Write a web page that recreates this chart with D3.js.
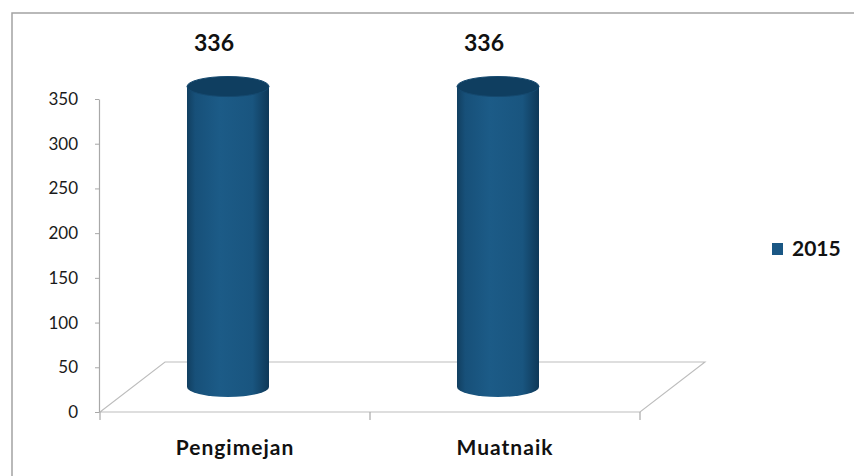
<!DOCTYPE html>
<html>
  <head>
    <meta charset="utf-8">
    <script src="https://d3js.org/d3.v7.min.js"></script>
    <style>
      body { margin: 0; background: #fff; }
      svg { font-family: Lato, "Open Sans", sans-serif; }
    </style>
  </head>
  <body>
    <svg id="chart" width="854" height="476"></svg>
    <script>
      var categories = ["Pengimejan", "Muatnaik"];
      var values2015 = [336, 336];
      var yTicks = [0, 50, 100, 150, 200, 250, 300, 350];
      var seriesName = "2015";

      var svg = d3.select("#chart");

      // outer frame (runs off the right and bottom of the picture)
      svg.append("rect")
          .attr("x", 12).attr("y", 13).attr("width", 900).attr("height", 500)
          .attr("fill", "none").attr("stroke", "#a3a3a3").attr("stroke-width", 1.5);

      var y = d3.scaleLinear().domain([0, 350]).range([412, 99]);
      var x = d3.scaleBand().domain(categories).range([100, 640]);
      var depthX = 65, depthY = -50;

      // floor
      var x0 = x.range()[0], x1 = x.range()[1], y0 = y(0);
      svg.append("path")
          .attr("d", "M" + x0 + "," + y0 + "L" + x1 + "," + y0 +
                     "L" + (x1 + depthX) + "," + (y0 + depthY) +
                     "L" + (x0 + depthX) + "," + (y0 + depthY) + "Z")
          .attr("fill", "#fff").attr("stroke", "#bdbdbd").attr("stroke-width", 1.1);

      // category ticks under the front edge
      var bounds = [x0].concat(categories.slice(1).map(function(c) { return x(c); })).concat([x1]);
      svg.selectAll(".ctick")
        .data(bounds)
        .enter().append("line")
          .attr("class", "ctick")
          .attr("x1", function(d) { return d; }).attr("x2", function(d) { return d; })
          .attr("y1", y0).attr("y2", y0 + 8)
          .attr("stroke", "#a8a8a8").attr("stroke-width", 1.2);

      // y axis
      var yAxis = svg.append("g")
          .attr("transform", "translate(99,0)")
          .call(d3.axisLeft(y).tickValues(yTicks).tickSize(4).tickPadding(17).tickSizeOuter(0));
      yAxis.select(".domain").attr("stroke", "#a8a8a8").attr("stroke-width", 1.2);
      yAxis.selectAll(".tick line").attr("stroke", "#a8a8a8");
      yAxis.selectAll(".tick text")
          .attr("fill", "#1a1a1a").attr("font-size", 17).attr("font-family", "Lato, sans-serif");

      // cylinder gradient
      var defs = svg.append("defs");
      var grad = defs.append("linearGradient").attr("id", "cyl").attr("x1", "0%").attr("x2", "100%");
      [["0%", "#113f60"], ["10%", "#175079"], ["40%", "#1c5b87"], ["80%", "#19557f"], ["100%", "#0e3858"]]
        .forEach(function(s) { grad.append("stop").attr("offset", s[0]).attr("stop-color", s[1]); });

      var rx = 41, ry = 10, shift = -7;
      var bars = svg.selectAll(".bar")
        .data(categories.map(function(c, i) { return {cat: c, value: values2015[i]}; }))
        .enter().append("g")
          .attr("class", "bar");

      function cx(d) { return x(d.cat) + x.bandwidth() / 2 + shift; }
      function baseY() { return y(0) + depthY / 2; }
      function topY(d) { return y(d.value) + depthY / 2; }

      bars.append("path")
          .attr("d", function(d) {
            var l = cx(d) - rx, r = cx(d) + rx;
            return "M" + l + "," + topY(d) + "L" + l + "," + baseY() +
                   "A" + rx + "," + ry + " 0 0 0 " + r + "," + baseY() +
                   "L" + r + "," + topY(d) + "Z";
          })
          .attr("fill", "url(#cyl)");

      bars.append("ellipse")
          .attr("cx", cx).attr("cy", topY)
          .attr("rx", rx).attr("ry", ry)
          .attr("fill", "#0f3e60").attr("stroke", "#15496f").attr("stroke-width", 1);

      bars.append("text")
          .attr("x", function(d) { return cx(d) - 14; })
          .attr("y", function(d) { return topY(d) - 36; })
          .attr("text-anchor", "middle")
          .attr("font-size", 23).attr("font-weight", "bold").attr("fill", "#111")
          .text(function(d) { return d.value; });

      // category labels
      svg.selectAll(".cat")
        .data(categories)
        .enter().append("text")
          .attr("class", "cat")
          .attr("x", function(d) { return x(d) + x.bandwidth() / 2; })
          .attr("y", 455)
          .attr("text-anchor", "middle")
          .attr("letter-spacing", 1)
          .attr("font-size", 21).attr("font-weight", "bold").attr("fill", "#111")
          .text(function(d) { return d; });

      // legend
      var legend = svg.append("g").attr("transform", "translate(772,243)");
      legend.append("rect").attr("width", 11).attr("height", 12).attr("fill", "#1a5784");
      legend.append("text")
          .attr("x", 20).attr("y", 13)
          .attr("font-size", 21).attr("font-weight", "bold").attr("fill", "#111")
          .text(seriesName);
    </script>
  </body>
</html>
